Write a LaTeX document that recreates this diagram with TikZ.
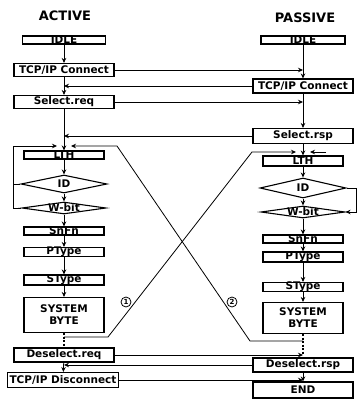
\documentclass[tikz,border=0pt]{standalone}
\usepackage{fontspec}
\setmainfont{DejaVu Sans}
\usetikzlibrary{shapes.geometric,arrows.meta}
\newcommand\boxfont{\bfseries\fontsize{10.5}{12}\selectfont}
\newcommand\titlefont{\bfseries\fontsize{13}{15}\selectfont}
\begin{document}
\begin{tikzpicture}[x=1pt,y=-1pt,
  >={Stealth[length=5pt,width=4.5pt]},
  bigbox/.style={draw, line width=1.1pt, minimum width=100pt, minimum height=13pt, inner sep=0pt, font=\boxfont},
  thinbox/.style={draw, line width=1.1pt, minimum width=80pt, minimum height=8pt, inner sep=0pt},
  dia/.style={draw, diamond, line width=1.1pt, minimum width=86pt, minimum height=18pt, inner sep=0pt, aspect=4},
  txt/.style={font=\boxfont, inner sep=0pt},
  flow/.style={line width=0.8pt,->},
  plain/.style={line width=0.8pt},
  dots/.style={line width=1.8pt, dash pattern=on 2pt off 1.5pt},
  num/.style={circle, draw, line width=0.8pt, inner sep=0pt, minimum size=10pt, font=\bfseries\fontsize{7}{8}\selectfont, fill=white}]
\useasboundingbox (0,0) rectangle (358,405);

% titles
\node[font=\titlefont] (tact) at (65,16) {ACTIVE};
\node[font=\titlefont] (tpas) at (305,18) {PASSIVE};

% active column
\node[thinbox, minimum width=83pt] (aidle) at (64,40) {};
\node[txt] (aidlet) at (aidle) {IDLE};
\node[bigbox] (atcp) at (64,70) {TCP/IP Connect};
\node[bigbox] (asel) at (64,102) {Select.req};
\node[thinbox] (alth) at (64,155) {};
\node[txt] (altht) at (alth) {LTH};
\node[dia] (aid) at (64,184) {};
\node[txt] (aidt) at (aid) {ID};
\node[dia, minimum width=84pt, minimum height=12pt] (awb) at (64,208) {};
\node[txt] (awbt) at (awb) {W-bit};
\node[thinbox] (asnfn) at (64,231) {};
\node[txt] (asnfnt) at (asnfn) {SnFn};
\node[thinbox, minimum height=9pt] (apt) at (64,252) {};
\node[txt] (aptt) at (apt) {PType};
\node[thinbox, minimum height=10pt] (ast) at (64,280) {};
\node[txt] (astt) at (ast) {SType};
\node[bigbox, minimum width=80pt, minimum height=35pt, align=center] (asb) at (64,315) {SYSTEM\\BYTE};
\node[bigbox, minimum height=14pt] (ades) at (64,355) {Deselect.req};
\node[bigbox, minimum width=111pt, minimum height=15pt] (adis) at (63,380) {TCP/IP Disconnect};

% passive column
\node[thinbox, minimum width=84pt] (pidle) at (303,40) {};
\node[txt] (pidlet) at (pidle) {IDLE};
\node[bigbox, minimum height=14pt] (ptcp) at (303,86) {TCP/IP Connect};
\node[bigbox, minimum height=15pt] (psel) at (303,136) {Select.rsp};
\node[thinbox, minimum height=10pt] (plth) at (303,161) {};
\node[txt] (plitht) at (plth) {LTH};
\node[dia, minimum height=20pt] (pid) at (303,188) {};
\node[txt] (pidt) at (pid) {ID};
\node[dia, minimum width=84pt, minimum height=12pt] (pwb) at (303,212) {};
\node[txt] (pwbt) at (pwb) {W-bit};
\node[thinbox] (psnfn) at (303,239) {};
\node[txt] (psnfnt) at (psnfn) {SnFn};
\node[thinbox, minimum height=10pt] (ppt) at (303,257) {};
\node[txt] (pptt) at (ppt) {PType};
\node[thinbox, minimum height=9pt] (pst) at (303,287) {};
\node[txt] (pstt) at (pst) {SType};
\node[bigbox, minimum width=80pt, minimum height=31pt, align=center] (psb) at (303,318) {SYSTEM\\BYTE};
\node[bigbox, minimum height=14pt] (pdes) at (303,365) {Deselect.rsp};
\node[bigbox, minimum height=16pt] (pend) at (303,390) {END};

% active vertical flow
\draw[flow] (aidle) -- (atcp);
\draw[flow] (atcp) -- (asel);
\draw[flow] (asel) -- (alth);
\draw[flow] (alth) -- (aid);
\draw[flow] (aid) -- (awb);
\draw[flow] (awb) -- (asnfn);
\draw[flow] (asnfn) -- (apt);
\draw[flow] (apt) -- (ast);
\draw[flow] (ast) -- (asb);
\draw[dots] (asb) -- (ades);
\draw[flow] (ades) -- (adis);

% passive vertical flow
\draw[flow] (pidle) -- (ptcp);
\draw[flow] (ptcp) -- (psel);
\draw[flow] (psel) -- (plth);
\draw[flow] (plth) -- (pid);
\draw[flow] (pid) -- (pwb);
\draw[flow] (pwb) -- (psnfn);
\draw[flow] (psnfn) -- (ppt);
\draw[flow] (ppt) -- (pst);
\draw[flow] (pst) -- (psb);
\coordinate (pdotend) at (303,355);
\draw[dots] (psb.south) -- (pdotend);
\draw[flow] (pdes) -- (pend);

% messages
\draw[flow] (atcp.east) -- (atcp.east -| pidle.south);
\draw[flow] (ptcp.west) -- (ptcp.west -| atcp.south);
\draw[flow] (asel.east) -- (asel.east -| ptcp.south);
\draw[flow] (psel.west) -- (psel.west -| asel.south);
\draw[flow] (ades.east) -- (pdotend);
\draw[flow] (pdes.west) -- (pdes.west -| ades.south);
\draw[flow] (adis.east) -- (adis.east -| pend.north);

% active loop
\coordinate (aloop) at (13,146);
\coordinate (aloopend) at (57,146);
\draw[plain] (aid.west) -- (aid.west -| aloop);
\draw[flow] (awb.west) -| (aloop) -- (aloopend);

% passive loop
\coordinate (ploop) at (356,212);
\draw[flow] (pid.east) -| (ploop) -- (pwb.east);
\coordinate (pstubs) at (326,152);
\coordinate (pstube) at (310,152);
\draw[flow] (pstubs) -- (pstube);

% crossing lines
\coordinate (a1start) at (64,337);
\coordinate (p1end) at (296,152);
\draw[flow] (a1start) -- (108,337) -- (252,152) -- (p1end);
\coordinate (p2start) at (303,341);
\coordinate (a2end) at (71,146);
\draw[flow] (p2start) -- (250,341) -- (117,146) -- (a2end);

\node[num] (c1) at (126,302) {1};
\node[num] (c2) at (232,302) {2};
\end{tikzpicture}
\end{document}
